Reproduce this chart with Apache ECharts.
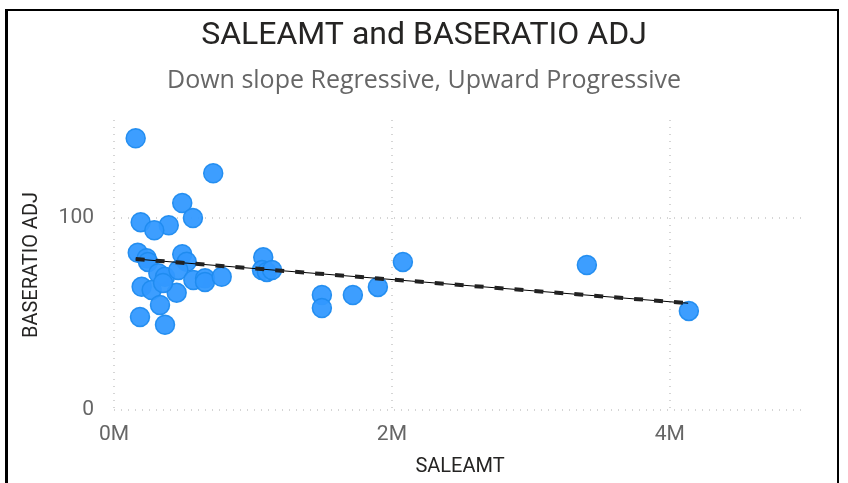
<!DOCTYPE html>
<html>
<head>
<meta charset="utf-8">
<script src="https://cdn.jsdelivr.net/npm/echarts@6/dist/echarts.min.js"></script>
<style>
html,body{margin:0;padding:0;background:#fff;}
#frame{position:absolute;left:5px;top:9px;width:829px;height:480px;border-left:3px solid #000;border-top:2px solid #000;border-right:2px solid #000;}
#chart{position:absolute;left:0;top:0;width:848px;height:483px;}
</style>
</head>
<body>
<div id="frame"></div>
<div id="chart"></div>
<script>
// SALEAMT in millions, BASERATIO ADJ
const saleAmtM = [0.156,0.714,0.491,0.568,0.192,0.394,0.290,0.171,0.235,0.245,0.491,0.523,1.074,1.065,1.100,1.137,0.319,0.367,0.463,0.571,0.655,0.655,0.775,0.199,0.271,0.451,0.331,0.187,0.367,0.353,2.079,3.403,4.137,1.496,1.496,1.719,1.899];
const baseRatio = [141.5,123.3,107.8,100.0,97.8,96.2,93.6,81.9,79.0,77.1,81.1,77.2,79.5,72.9,71.9,72.9,71.2,69.4,72.9,67.7,68.6,66.7,69.4,64.2,62.5,61.1,54.7,48.4,44.4,66.1,77.1,75.5,51.6,59.9,53.1,59.9,64.1];
const trendX = [0.156, 4.132];
const trendY = [78.6, 55.6];
const xTicks = ['0M','2M','4M'];
const yTicks = [0,100];

const pts = saleAmtM.map((v,i)=>[v*1e6, baseRatio[i]]);
const trend = trendX.map((v,i)=>[v*1e6, trendY[i]]);

const chart = echarts.init(document.getElementById('chart'));
chart.setOption({
  animation:false,
  title:[
    {text:'SALEAMT and BASERATIO ADJ',left:'center',top:15,textStyle:{fontFamily:'Roboto',fontSize:32,fontWeight:'normal',color:'#252423'}},
    {text:'Down slope Regressive, Upward Progressive',left:'center',top:63,textStyle:{fontFamily:'Open Sans',fontSize:25,fontWeight:'normal',color:'#666666'}}
  ],
  grid:{left:114,right:42,top:120,bottom:73},
  xAxis:{
    type:'value',min:0,max:4.98e6,interval:2e6,
    name:'SALEAMT',nameLocation:'middle',nameGap:47,
    nameTextStyle:{fontFamily:'Roboto',fontSize:20,color:'#252423'},
    axisLine:{show:false},axisTick:{show:false},
    axisLabel:{showMaxLabel:false,margin:14,fontFamily:'Roboto',fontSize:21,color:'#666666',
      formatter:v=>xTicks[Math.round(v/2e6)]||''},
    splitLine:{show:true,showMaxLine:false,lineStyle:{color:'#c8c8c8',type:[1,6],width:1.5}}
  },
  yAxis:{
    type:'value',min:0,max:151,interval:100,
    name:'BASERATIO ADJ',nameLocation:'middle',nameGap:72,nameRotate:90,
    nameTextStyle:{fontFamily:'Roboto',fontSize:20,color:'#252423'},
    axisLine:{show:false},axisTick:{show:false},
    axisLabel:{showMaxLabel:false,margin:20,fontFamily:'Roboto',fontSize:21,color:'#666666',
      formatter:v=>yTicks.indexOf(v)>=0?String(v):''},
    splitLine:{show:true,showMaxLine:false,lineStyle:{color:'#c8c8c8',type:[1,6],width:1.5}}
  },
  series:[
    {type:'scatter',data:pts,symbolSize:19,z:2,
      itemStyle:{color:'#3399ff',borderColor:'#1f8bef',borderWidth:1.5,opacity:0.95}},
    {type:'line',data:trend,symbol:'none',z:3,lineStyle:{color:'#000',width:1}},
    {type:'line',data:trend,symbol:'none',z:4,lineStyle:{color:'#222222',width:4,type:[9,11]}}
  ]
});
</script>
</body>
</html>
